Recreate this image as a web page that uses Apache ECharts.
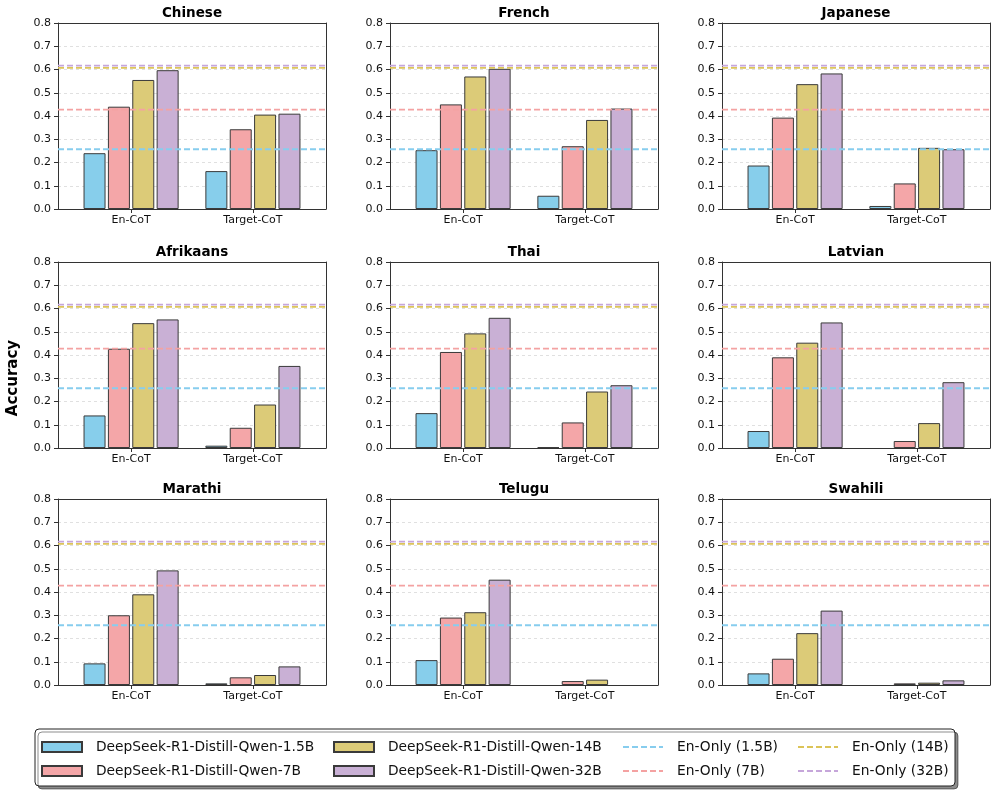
<!DOCTYPE html>
<html>
<head>
<meta charset="utf-8">
<script src="https://cdn.jsdelivr.net/npm/echarts@6/dist/echarts.min.js"></script>
<style>
html,body{margin:0;padding:0;background:#fff;}
#chart{width:997px;height:794px;}
</style>
</head>
<body>
<div id="chart"></div>
<script>
// ---------- data ----------
const languages = ['Chinese','French','Japanese','Afrikaans','Thai','Latvian','Marathi','Telugu','Swahili'];
const groups = ['En-CoT','Target-CoT'];
const models = ['DeepSeek-R1-Distill-Qwen-1.5B','DeepSeek-R1-Distill-Qwen-7B','DeepSeek-R1-Distill-Qwen-14B','DeepSeek-R1-Distill-Qwen-32B'];
const baselineNames = ['En-Only (1.5B)','En-Only (7B)','En-Only (14B)','En-Only (32B)'];
const baselineValues = [0.257, 0.427, 0.607, 0.617];
const yTicks = [0, 0.1, 0.2, 0.3, 0.4, 0.5, 0.6, 0.7, 0.8];

// values per language: [model][group]  (group 0 = En-CoT, 1 = Target-CoT)
const chinese   = [[0.240,0.163],[0.440,0.343],[0.555,0.406],[0.597,0.410]];
const french    = [[0.253,0.057],[0.450,0.270],[0.570,0.383],[0.603,0.432]];
const japanese  = [[0.187,0.013],[0.393,0.110],[0.537,0.263],[0.583,0.257]];
const afrikaans = [[0.140,0.010],[0.427,0.087],[0.537,0.187],[0.553,0.353]];
const thai      = [[0.150,0.003],[0.413,0.110],[0.493,0.243],[0.560,0.270]];
const latvian   = [[0.073,0.000],[0.390,0.030],[0.453,0.107],[0.540,0.283]];
const marathi   = [[0.093,0.007],[0.300,0.033],[0.390,0.043],[0.493,0.080]];
const telugu    = [[0.107,0.000],[0.290,0.017],[0.313,0.023],[0.453,0.000]];
const swahili   = [[0.050,0.000],[0.113,0.007],[0.223,0.010],[0.320,0.020]];
const panelData = [chinese, french, japanese, afrikaans, thai, latvian, marathi, telugu, swahili];

// ---------- style ----------
const barColors  = ['#87CEEB','#F4A6A8','#DCCB78','#C9B0D5'];
const lineColors = ['#87CDEE','#F4A2A2','#DCC458','#C6A6DA'];
const barOffsets = [-0.3,-0.1,0.1,0.3];
const xMin = -0.6, xMax = 1.6;
const colLeft = [58, 390, 722];
const rowTop = [23, 262, 499];
const plotW = 268, plotH = 186;
const FONT = 'DejaVu Sans';
const frameLine = {show: true, onZero: false, lineStyle: {color: '#333', width: 1}};

const chart = echarts.init(document.getElementById('chart'), null, {renderer:'canvas'});

const grids = [], xAxes = [], yAxes = [], series = [], titles = [];
panelData.forEach((vals, p) => {
  const r = Math.floor(p/3), c = p%3;
  grids.push({left: colLeft[c], top: rowTop[r], width: plotW, height: plotH, show: false});
  titles.push({text: languages[p], left: colLeft[c] + plotW/2, top: rowTop[r] - 17, textAlign: 'center', padding: 0,
    textStyle: {fontFamily: FONT, fontWeight: 'bold', fontSize: 13.5, color: '#000'}});
  xAxes.push({gridIndex: p, type: 'value', min: xMin, max: xMax, position: 'bottom',
    splitLine: {show: false},
    axisLine: frameLine,
    axisTick: {show: true, customValues: [0, 1], length: 4, lineStyle: {color: '#333'}},
    axisLabel: {customValues: [0, 1], formatter: v => groups[Math.round(v)], margin: 6,
      fontFamily: FONT, fontSize: 11, color: '#111'}});
  yAxes.push({gridIndex: p, type: 'value', min: 0, max: 0.8, interval: 0.1, position: 'left',
    axisLine: frameLine,
    axisTick: {show: true, length: 4, lineStyle: {color: '#333'}},
    axisLabel: {formatter: v => v.toFixed(1), margin: 7, fontFamily: FONT, fontSize: 11, color: '#111',
      customValues: yTicks},
    splitLine: {show: true, lineStyle: {color: '#d8d8d8', width: 0.8, type: [3, 3]}}});
  models.forEach((m, k) => {
    series.push({type: 'bar', name: m, xAxisIndex: 2*p, yAxisIndex: 2*p,
      barWidth: 22, barGap: '-100%',
      itemStyle: {color: barColors[k], borderColor: '#3a3a3a', borderWidth: 1},
      emphasis: {disabled: true},
      data: groups.map((g, gi) => vals[k][gi] > 0 ? [gi + barOffsets[k], vals[k][gi]] : null).filter(d => d), z: 2});
  });
  baselineNames.forEach((n, k) => {
    series.push({type: 'line', name: n, xAxisIndex: 2*p, yAxisIndex: 2*p,
      symbol: 'none', silent: true,
      lineStyle: {color: lineColors[k], width: 1.8, type: [6, 3], opacity: 1},
      itemStyle: {color: lineColors[k]},
      data: [[xMin, baselineValues[k]], [xMax, baselineValues[k]]], z: 5});
  });
  // frame axes (top / right)
  xAxes.push({gridIndex: p, type: 'value', min: xMin, max: xMax, position: 'top',
    axisLine: frameLine, axisTick: {show: false}, axisLabel: {show: false}, splitLine: {show: false}});
  yAxes.push({gridIndex: p, type: 'value', min: 0, max: 0.8, position: 'right',
    axisLine: frameLine, axisTick: {show: false}, axisLabel: {show: false}, splitLine: {show: false}});
});

const legendCommon = {orient: 'vertical', itemWidth: 40, itemHeight: 10, itemGap: 8, z: 20,
  padding: 0, selectedMode: false,
  textStyle: {fontFamily: FONT, fontSize: 13.8, color: '#111', lineHeight: 16, padding: [0, 0, 0, 9]}};
const legends = [
  Object.assign({}, legendCommon, {left: 41, top: 739, icon: 'rect', data: [models[0], models[1]]}),
  Object.assign({}, legendCommon, {left: 333, top: 739, icon: 'rect', data: [models[2], models[3]]}),
  Object.assign({}, legendCommon, {left: 622, top: 739, itemStyle: {opacity: 0}, data: [baselineNames[0], baselineNames[1]]}),
  Object.assign({}, legendCommon, {left: 797, top: 739, itemStyle: {opacity: 0}, data: [baselineNames[2], baselineNames[3]]})
];

chart.setOption({
  animation: false,
  backgroundColor: '#fff',
  title: titles,
  grid: grids,
  xAxis: xAxes,
  yAxis: yAxes,
  legend: legends,
  series: series,
  graphic: [
    {type: 'rect', z: 1, shape: {x: 35, y: 729, width: 920, height: 57, r: 4},
      style: {fill: '#fff', stroke: '#222', lineWidth: 1,
        shadowColor: 'rgba(0,0,0,0.45)', shadowOffsetX: 3, shadowOffsetY: 3, shadowBlur: 0}},
    {type: 'text', z: 10, x: 13, y: 378, rotation: Math.PI/2,
      style: {text: 'Accuracy', fontFamily: FONT, fontWeight: 'bold', fontSize: 15, fill: '#000',
        textAlign: 'center', textVerticalAlign: 'middle'}}
  ]
});
</script>
</body>
</html>
